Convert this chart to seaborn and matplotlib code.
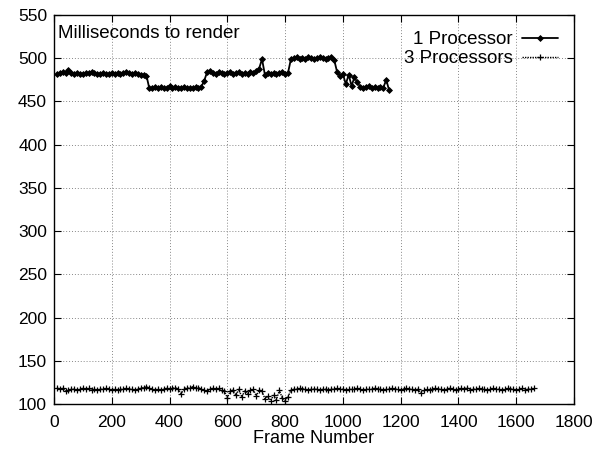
import numpy as np
import pandas as pd
import matplotlib
matplotlib.use('Agg')
import matplotlib.pyplot as plt
import seaborn as sns

# 1 Processor, one sample every 10 frames (10 .. 1160)
frames_1 = list(range(10, 1170, 10))
ms_1 = [482, 483, 484, 483, 486, 483, 482, 483, 482, 482,
        483, 483, 484, 483, 482, 482, 483, 482, 482, 483,
        482, 483, 482, 483, 484, 483, 482, 483, 482, 481,
        481, 480,
        465, 466, 467, 466, 467, 465, 466, 468, 466, 467,
        466, 466, 467, 466, 465, 466, 467, 466, 467, 474,
        484, 485, 483, 482, 484, 483, 482, 483, 484, 482,
        483, 484, 482, 483, 482, 484, 483, 485, 488, 499,
        481, 483, 482, 483, 482, 483, 484, 482, 483,
        499, 500, 501, 499, 500, 499, 501, 500, 499, 500,
        501, 500, 499, 500, 502, 498,
        484, 480, 482, 470, 481, 468, 478, 472, 467, 466,
        467, 468, 466, 467, 466, 467, 466, 475, 463]

# 3 Processors, one sample every 10 frames (10 .. 1660)
frames_3 = list(range(10, 1670, 10))
ms_3 = [119, 117, 118, 115, 116, 117, 117, 116, 117, 118,
        117, 118, 116, 117, 116, 117, 117, 118, 117, 116,
        117, 116, 117, 117, 118, 117, 117, 116, 117, 118,
        119, 120, 118, 117, 116, 117, 116, 117, 118, 117,
        118, 119, 117, 112, 117, 119, 118, 120, 118, 119,
        117, 116, 115, 117, 118, 117, 118, 116, 115, 107,
        115, 116, 110, 117, 108, 115, 112, 116, 117, 109,
        116, 115, 106, 109, 104, 110, 105, 116, 107, 104,
        108, 116, 117, 117, 118, 117, 117, 116, 117, 117,
        117, 116, 117, 117, 116, 117, 117, 118, 117, 117,
        116, 117, 117, 117, 118, 117, 116, 117, 117, 117,
        118, 117, 117, 116, 117, 117, 118, 117, 117, 116,
        117, 118, 117, 117, 116, 117, 113, 116, 117, 116,
        117, 118, 117, 117, 116, 117, 118, 117, 116, 117,
        118, 117, 119, 116, 117, 117, 118, 117, 117, 116,
        117, 118, 117, 117, 116, 117, 118, 117, 117, 116,
        117, 118, 116, 117, 117, 118]

x_ticks = list(range(0, 2000, 200))
y_ticks = list(range(100, 600, 50))

df1 = pd.DataFrame({'frame': frames_1, 'ms': ms_1})
df3 = pd.DataFrame({'frame': frames_3, 'ms': ms_3})

sns.set_style('ticks')
plt.rcParams['font.family'] = ['Liberation Sans', 'DejaVu Sans']
plt.rcParams['text.color'] = 'black'
plt.rcParams['axes.labelcolor'] = 'black'

fig = plt.figure(figsize=(5.96, 4.51), dpi=100)
ax = fig.add_axes([0.0906, 0.1042, 0.8725, 0.8625])

sns.lineplot(data=df1, x='frame', y='ms', ax=ax, color='black', lw=1.3,
             marker='D', markersize=3.0, markeredgewidth=0.6,
             markeredgecolor='black', label='1 Processor')
sns.lineplot(data=df3, x='frame', y='ms', ax=ax, color='black', lw=1.0,
             linestyle=(0, (1, 0.8)), marker='+', markersize=4.5,
             markeredgewidth=0.9, markeredgecolor='black',
             label='3 Processors')

ax.set_xlim(0, 1800)
ax.set_ylim(100, 550)
ax.set_xticks(x_ticks)
ax.set_yticks(y_ticks)
ax.grid(True, color='#888888', linestyle=(0, (1, 2)), linewidth=0.7)
ax.tick_params(direction='in', top=True, right=True, length=5, width=0.8,
               labelsize=12.5, colors='black')
ax.tick_params(axis='x', pad=8)
ax.tick_params(axis='y', pad=5)
for s in ax.spines.values():
    s.set_color('black')
    s.set_linewidth(1.0)

ax.set_xlabel('Frame Number', fontsize=13, labelpad=0)
ax.set_ylabel('')
ax.text(0.008, 0.975, 'Milliseconds to render', transform=ax.transAxes,
        ha='left', va='top', fontsize=13.5)

leg = ax.legend(loc='upper right', frameon=False, markerfirst=False,
                fontsize=13.5, handlelength=1.9, borderaxespad=0.45,
                labelspacing=0.1, handletextpad=0.5)
for t in leg.get_texts():
    t.set_ha('right')
    t.set_color('black')

fig.savefig('out.png', dpi=100)
